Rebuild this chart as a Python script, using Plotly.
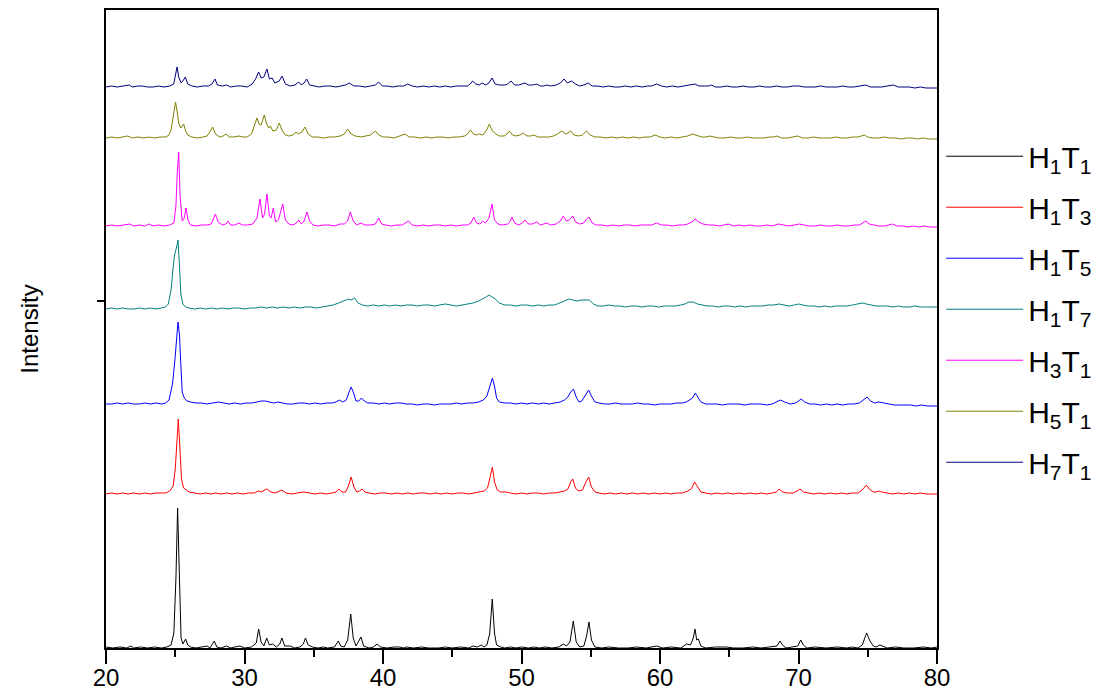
import numpy as np
import plotly.graph_objects as go

# ---- data (2-theta in degrees, intensity above each pattern's own baseline) ----
NAMES = ["H<sub>1</sub>T<sub>1</sub>", "H<sub>1</sub>T<sub>3</sub>", "H<sub>1</sub>T<sub>5</sub>",
         "H<sub>1</sub>T<sub>7</sub>", "H<sub>3</sub>T<sub>1</sub>", "H<sub>5</sub>T<sub>1</sub>",
         "H<sub>7</sub>T<sub>1</sub>"]
OFFSETS = [0, 154, 244, 339, 422, 510, 561]
COLORS = ["#000000", "#FF0000", "#0000FF", "#008080", "#FF00FF", "#808000", "#000080"]

H1T1 = [(20.0,1),(20.5,0),(21.0,1),(21.5,0),(21.8,2),(22.0,0),(22.5,1),(23.0,0),(23.5,1),(24.0,0),(24.4,1),(24.7,3),(24.9,15),(25.05,70),(25.17,140),(25.3,60),(25.42,10),(25.55,4),(25.75,9),(25.9,3),(26.1,1),(26.5,0),(27.0,1),(27.3,2),(27.5,0),(27.82,7),(28.0,1),(28.3,0),(28.7,2),(29.0,0),(29.3,1),(29.68,2),(30.0,0),(30.5,1),(30.85,5),(31.02,19),(31.2,6),(31.4,2),(31.6,10),(31.8,3),(32.03,4),(32.3,1),(32.55,4),(32.7,10),(32.9,2),(33.3,2),(33.6,0),(34.0,1),(34.25,4),(34.4,10),(34.6,3),(34.9,1),(35.3,0),(35.7,1),(36.0,0),(36.5,1),(36.77,7),(36.95,2),(37.2,1),(37.45,8),(37.67,34),(37.85,10),(38.05,2),(38.41,11),(38.6,2),(39.0,0),(39.3,1),(39.59,4),(39.8,1),(40.3,0),(40.8,1),(41.2,1),(41.5,0),(41.7,1),(42.2,0),(42.8,1),(43.3,0),(44.0,0),(44.5,1),(45.0,0),(45.6,1),(46.2,0),(46.5,2),(46.8,1),(47.1,3),(47.3,1),(47.5,3),(47.7,14),(47.89,49),(48.05,15),(48.2,3),(48.5,1),(48.8,0),(49.2,1),(49.6,0),(50.0,1),(50.5,0),(50.9,1),(51.3,0),(51.7,1),(52.2,0),(52.7,1),(53.02,4),(53.25,2),(53.5,6),(53.74,27),(53.95,6),(54.2,1),(54.5,2),(54.7,12),(54.87,26),(55.05,8),(55.3,1),(55.8,0),(56.3,1),(57.0,0),(57.7,0),(58.3,1),(59.0,0),(59.76,2),(60.2,0),(60.8,1),(61.5,0),(61.93,4),(62.2,3),(62.4,10),(62.53,19),(62.65,8),(62.77,9),(62.95,2),(63.3,0),(64.0,1),(64.8,1),(65.3,0),(66.0,0),(66.7,1),(67.3,0),(68.0,1),(68.45,2),(68.66,7),(68.85,3),(69.1,0),(69.6,1),(69.95,2),(70.16,8),(70.35,3),(70.6,0),(71.2,1),(72.0,0),(72.8,1),(73.5,0),(73.84,1),(74.3,0),(74.6,3),(74.92,15),(75.16,7),(75.4,2),(75.6,1),(75.88,3),(76.1,2),(76.4,0),(77.0,1),(77.6,0),(78.3,0),(79.0,1),(79.6,0),(80.0,1)]

H1T3 = [(20.0,0),(20.4,1),(20.8,0),(21.2,1),(21.6,0),(22.0,1),(22.4,0),(22.8,1),(23.2,0),(23.6,1),(24.0,1),(24.3,1),(24.6,3),(24.85,8),(25.0,25),(25.12,60),(25.22,75),(25.32,50),(25.45,15),(25.6,6),(25.8,4),(26.0,2),(26.4,1),(26.8,0),(27.2,1),(27.6,0),(27.9,1),(28.3,0),(28.7,1),(29.1,0),(29.5,1),(29.9,0),(30.3,1),(30.7,1),(31.0,3),(31.2,2),(31.6,5),(31.9,2),(32.2,1),(32.5,3),(32.7,4),(33.0,1),(33.4,0),(33.8,1),(34.3,2),(34.7,1),(35.1,0),(35.5,1),(35.9,0),(36.3,1),(36.6,2),(36.8,5),(37.05,2),(37.3,2),(37.5,8),(37.7,17),(37.9,7),(38.1,2),(38.3,3),(38.5,5),(38.7,2),(39.0,1),(39.4,0),(39.8,1),(40.2,1),(40.6,0),(41.0,1),(41.4,0),(41.8,1),(42.2,0),(42.6,1),(43.0,1),(43.4,0),(43.8,1),(44.2,0),(44.6,1),(45.0,0),(45.4,1),(45.8,1),(46.2,0),(46.6,1),(47.0,2),(47.3,3),(47.55,6),(47.75,18),(47.9,27),(48.05,12),(48.25,4),(48.5,2),(48.9,2),(49.2,1),(49.6,0),(50.0,1),(50.4,0),(50.8,1),(51.2,1),(51.6,0),(52.0,1),(52.4,1),(52.8,2),(53.1,3),(53.35,5),(53.55,12),(53.7,15),(53.9,6),(54.1,3),(54.4,4),(54.65,12),(54.85,17),(55.05,7),(55.3,2),(55.6,1),(56.0,0),(56.4,1),(56.8,0),(57.2,1),(57.6,0),(58.0,1),(58.4,0),(58.8,1),(59.2,0),(59.6,1),(60.0,0),(60.4,1),(60.8,0),(61.2,1),(61.6,1),(62.0,3),(62.25,5),(62.5,12),(62.7,7),(62.95,2),(63.3,1),(63.7,0),(64.1,1),(64.5,0),(64.9,1),(65.3,0),(65.7,1),(66.1,0),(66.5,1),(66.9,0),(67.3,1),(67.7,0),(68.1,1),(68.4,2),(68.6,5),(68.85,2),(69.2,1),(69.6,1),(69.9,3),(70.1,5),(70.35,2),(70.7,1),(71.1,0),(71.5,1),(71.9,0),(72.3,1),(72.7,0),(73.1,1),(73.5,0),(73.9,1),(74.3,1),(74.6,4),(74.9,9),(75.1,5),(75.4,2),(75.6,2),(75.8,3),(76.0,2),(76.4,1),(76.8,0),(77.2,1),(77.6,0),(78.0,1),(78.4,0),(78.8,1),(79.2,0),(79.6,0),(80.0,0)]

H1T5 = [(20.0,0),(20.4,0),(20.8,1),(21.2,0),(21.6,1),(22.0,0),(22.4,0),(22.8,1),(23.2,0),(23.6,1),(24.0,0),(24.3,1),(24.55,4),(24.8,20),(24.95,40),(25.1,72),(25.2,82),(25.3,70),(25.4,35),(25.5,12),(25.65,6),(25.85,3),(26.1,2),(26.5,1),(26.9,1),(27.3,0),(27.7,1),(28.1,2),(28.5,1),(28.9,0),(29.3,1),(29.7,0),(30.1,1),(30.5,1),(30.9,2),(31.2,3),(31.5,3),(31.8,2),(32.1,1),(32.4,2),(32.7,1),(33.1,0),(33.5,0),(33.9,1),(34.3,1),(34.7,0),(35.1,1),(35.5,0),(35.9,1),(36.3,1),(36.6,2),(36.85,4),(37.1,2),(37.35,4),(37.55,12),(37.7,17),(37.85,12),(38.05,3),(38.25,3),(38.45,6),(38.65,3),(38.9,1),(39.3,1),(39.7,0),(40.1,1),(40.5,0),(40.9,1),(41.3,1),(41.7,0),(42.1,0),(42.5,-1),(42.9,0),(43.3,0),(43.7,-1),(44.1,0),(44.5,0),(44.9,0),(45.3,1),(45.7,0),(46.1,1),(46.5,1),(46.9,2),(47.25,4),(47.5,8),(47.7,17),(47.9,26),(48.05,18),(48.2,6),(48.4,2),(48.8,1),(49.2,1),(49.6,0),(50.0,1),(50.4,0),(50.8,1),(51.2,0),(51.6,1),(52.0,0),(52.4,1),(52.8,2),(53.1,4),(53.35,7),(53.55,12),(53.75,15),(53.95,7),(54.15,2),(54.35,3),(54.6,9),(54.85,14),(55.05,8),(55.3,2),(55.6,1),(56.0,0),(56.4,0),(56.8,1),(57.2,0),(57.6,0),(58.0,0),(58.4,1),(58.8,0),(59.2,0),(59.6,-1),(60.0,0),(60.4,0),(60.8,0),(61.2,1),(61.6,1),(61.9,2),(62.15,4),(62.35,6),(62.55,11),(62.75,6),(62.95,2),(63.3,0),(63.7,0),(64.1,0),(64.5,-1),(64.9,0),(65.3,0),(65.7,0),(66.1,-1),(66.5,0),(66.9,0),(67.3,0),(67.7,-1),(68.1,0),(68.4,2),(68.7,4),(69.0,2),(69.4,0),(69.8,1),(70.2,5),(70.45,2),(70.8,0),(71.2,0),(71.6,-1),(72.0,0),(72.4,-1),(72.8,0),(73.2,-1),(73.6,0),(74.0,0),(74.4,1),(74.7,4),(74.95,7),(75.2,3),(75.5,1),(75.8,2),(76.1,1),(76.5,0),(76.9,-1),(77.3,-1),(77.7,-1),(78.1,-1),(78.5,-2),(78.9,-1),(79.3,-2),(79.7,-2),(80.0,-2)]

H1T7 = [(20.0,0),(20.4,1),(20.8,0),(21.2,1),(21.6,0),(22.0,0),(22.4,1),(22.8,0),(23.2,1),(23.6,0),(24.0,1),(24.3,2),(24.5,5),(24.7,19),(24.85,42),(24.95,54),(25.1,62),(25.2,69),(25.3,45),(25.4,15),(25.55,5),(25.75,2),(26.0,1),(26.4,0),(26.8,1),(27.2,0),(27.6,1),(28.0,0),(28.4,1),(28.8,0),(29.2,1),(29.6,1),(30.0,0),(30.4,1),(30.8,1),(31.2,2),(31.6,1),(32.0,2),(32.4,1),(32.8,2),(33.2,1),(33.6,2),(34.0,1),(34.4,2),(34.8,2),(35.2,1),(35.6,2),(36.0,3),(36.4,4),(36.8,6),(37.2,8),(37.5,10),(37.7,9),(37.95,11),(38.2,6),(38.5,4),(38.9,3),(39.3,4),(39.7,3),(40.1,4),(40.5,3),(40.9,4),(41.3,3),(41.7,4),(42.1,4),(42.5,3),(42.9,4),(43.3,4),(43.7,3),(44.1,4),(44.5,5),(44.9,4),(45.3,3),(45.7,4),(46.1,5),(46.5,6),(46.9,8),(47.2,10),(47.45,12),(47.65,14),(47.85,12),(48.1,10),(48.4,6),(48.8,4),(49.2,4),(49.6,3),(50.0,4),(50.4,4),(50.8,3),(51.2,4),(51.6,3),(52.0,4),(52.4,4),(52.8,6),(53.1,8),(53.4,10),(53.7,9),(54.0,8),(54.3,9),(54.6,9),(54.9,9),(55.2,5),(55.5,3),(55.9,3),(56.3,4),(56.7,3),(57.1,3),(57.5,2),(57.9,3),(58.3,3),(58.7,2),(59.1,3),(59.5,3),(59.9,2),(60.3,3),(60.7,3),(61.1,3),(61.5,4),(61.8,5),(62.1,7),(62.4,7),(62.7,5),(63.0,4),(63.4,3),(63.8,3),(64.2,2),(64.6,3),(65.0,3),(65.4,2),(65.8,3),(66.2,2),(66.6,3),(67.0,3),(67.4,3),(67.8,4),(68.2,4),(68.6,5),(68.9,4),(69.3,3),(69.7,4),(70.0,5),(70.3,4),(70.7,3),(71.1,3),(71.5,2),(71.9,3),(72.3,2),(72.7,3),(73.1,3),(73.5,3),(73.9,4),(74.3,5),(74.6,6),(74.9,5),(75.2,4),(75.6,3),(76.0,3),(76.4,3),(76.8,2),(77.2,3),(77.6,2),(78.0,2),(78.4,3),(78.8,2),(79.2,2),(79.6,2),(80.0,2)]

H3T1 = [(20.0,0),(20.4,1),(20.8,0),(21.2,1),(21.5,1),(21.7,2),(22.0,0),(22.4,1),(22.8,0),(23.1,2),(23.4,0),(23.8,1),(24.2,0),(24.6,1),(24.9,3),(25.05,20),(25.15,55),(25.25,74),(25.35,30),(25.5,5),(25.65,8),(25.78,18),(25.92,6),(26.1,1),(26.5,0),(26.9,1),(27.3,1),(27.6,2),(27.9,12),(28.1,4),(28.4,1),(28.65,2),(28.8,5),(29.0,1),(29.3,1),(29.6,3),(29.85,1),(30.2,1),(30.6,2),(30.9,8),(31.12,27),(31.3,8),(31.45,12),(31.62,32),(31.8,10),(31.92,8),(32.08,18),(32.25,4),(32.45,6),(32.6,14),(32.76,22),(32.95,6),(33.2,2),(33.5,1),(33.75,3),(33.91,6),(34.1,2),(34.3,5),(34.51,14),(34.7,5),(34.95,1),(35.3,0),(35.7,1),(36.1,1),(36.5,0),(36.9,2),(37.2,2),(37.45,5),(37.64,14),(37.85,5),(38.1,1),(38.41,3),(38.7,1),(39.1,1),(39.45,2),(39.69,8),(39.9,2),(40.2,1),(40.6,0),(41.0,1),(41.4,1),(41.83,5),(42.1,1),(42.5,0),(42.9,1),(43.3,0),(43.7,1),(44.1,1),(44.5,0),(44.9,1),(45.3,0),(45.7,1),(46.1,1),(46.35,3),(46.55,9),(46.75,3),(47.0,2),(47.2,5),(47.4,3),(47.65,8),(47.87,22),(48.05,6),(48.3,2),(48.6,1),(49.0,2),(49.15,4),(49.31,9),(49.5,3),(49.8,1),(50.05,3),(50.25,6),(50.5,2),(50.8,2),(51.1,4),(51.35,1),(51.6,2),(51.82,3),(52.1,1),(52.5,2),(52.8,5),(53.02,10),(53.25,5),(53.45,6),(53.7,10),(53.9,4),(54.2,2),(54.5,3),(54.7,7),(54.87,9),(55.1,3),(55.4,1),(55.8,1),(56.2,0),(56.6,1),(57.0,0),(57.4,1),(57.8,1),(58.2,0),(58.6,1),(59.0,1),(59.4,1),(59.76,3),(60.1,1),(60.5,1),(60.9,0),(61.3,1),(61.7,1),(62.0,2),(62.3,4),(62.53,7),(62.8,4),(63.1,2),(63.5,1),(63.9,1),(64.3,0),(64.6,1),(64.93,2),(65.3,0),(65.7,1),(66.1,0),(66.5,1),(66.9,0),(67.3,0),(67.7,1),(68.1,0),(68.54,2),(68.9,1),(69.3,0),(69.7,1),(70.06,2),(70.4,1),(70.8,0),(71.2,0),(71.6,1),(72.0,0),(72.4,0),(72.8,1),(73.2,0),(73.6,0),(74.0,1),(74.4,1),(74.65,3),(74.87,5),(75.1,2),(75.4,1),(75.8,0),(76.2,0),(76.5,1),(76.8,2),(77.1,0),(77.5,0),(77.9,-1),(78.3,0),(78.7,-1),(79.1,0),(79.5,-1),(80.0,-1)]

H5T1 = [(20.0,0),(20.4,1),(20.8,0),(21.2,1),(21.56,2),(21.9,0),(22.3,1),(22.7,0),(23.1,1),(23.5,0),(23.9,1),(24.3,1),(24.55,3),(24.7,8),(24.85,22),(24.95,33),(25.02,36),(25.12,28),(25.25,15),(25.4,10),(25.52,13),(25.61,14),(25.75,7),(25.9,3),(26.2,1),(26.6,0),(27.0,1),(27.3,2),(27.5,6),(27.7,11),(27.9,4),(28.2,1),(28.45,2),(28.66,4),(28.9,1),(29.2,1),(29.6,2),(29.9,1),(30.2,1),(30.5,4),(30.75,14),(30.9,20),(31.05,14),(31.2,13),(31.43,23),(31.6,14),(31.75,10),(31.87,12),(32.05,7),(32.3,8),(32.51,15),(32.7,8),(32.95,3),(33.2,2),(33.5,3),(33.72,6),(33.9,4),(34.15,6),(34.37,11),(34.6,4),(34.9,1),(35.3,1),(35.7,0),(36.1,1),(36.5,1),(36.9,2),(37.2,4),(37.45,9),(37.7,4),(38.0,2),(38.4,1),(38.8,2),(39.1,3),(39.45,7),(39.7,3),(40.0,1),(40.4,1),(40.8,0),(41.2,2),(41.59,4),(41.9,1),(42.3,1),(42.7,0),(43.1,1),(43.5,0),(43.9,1),(44.3,1),(44.7,0),(45.1,1),(45.5,1),(45.9,2),(46.1,4),(46.3,8),(46.55,4),(46.75,3),(46.95,4),(47.2,3),(47.45,7),(47.68,14),(47.9,7),(48.15,4),(48.4,2),(48.75,2),(48.95,4),(49.12,7),(49.35,3),(49.6,2),(49.9,3),(50.13,5),(50.4,2),(50.65,2),(50.9,3),(51.2,1),(51.6,1),(52.0,1),(52.3,2),(52.6,4),(52.9,7),(53.2,4),(53.35,5),(53.55,7),(53.8,3),(54.1,2),(54.4,3),(54.7,7),(54.95,3),(55.3,1),(55.7,1),(56.1,0),(56.5,1),(56.9,0),(57.3,1),(57.7,0),(58.1,1),(58.5,0),(58.9,1),(59.3,1),(59.64,3),(60.0,1),(60.4,0),(60.8,1),(61.2,0),(61.6,1),(62.0,2),(62.36,4),(62.7,2),(63.0,1),(63.3,1),(63.6,2),(63.9,1),(64.3,0),(64.7,0),(65.1,1),(65.5,0),(65.9,0),(66.3,1),(66.7,0),(67.1,0),(67.5,0),(67.9,1),(68.2,1),(68.43,2),(68.8,0),(69.2,0),(69.6,1),(69.94,2),(70.3,0),(70.7,0),(71.1,1),(71.5,0),(71.9,0),(72.3,0),(72.7,1),(73.1,0),(73.5,0),(73.9,1),(74.3,1),(74.55,2),(74.75,3),(75.0,1),(75.4,0),(75.8,0),(76.2,1),(76.6,0),(77.0,0),(77.4,-1),(77.8,0),(78.2,0),(78.6,-1),(79.0,0),(79.4,-1),(79.8,-1),(80.0,-1)]

H7T1 = [(20.0,0),(20.4,1),(20.8,0),(21.2,1),(21.5,1),(21.68,2),(21.9,0),(22.3,1),(22.65,1),(23.0,0),(23.4,0),(23.8,1),(24.2,0),(24.6,1),(24.89,3),(25.0,12),(25.13,20),(25.25,10),(25.42,4),(25.55,6),(25.73,10),(25.9,3),(26.2,1),(26.6,0),(27.0,1),(27.4,1),(27.65,3),(27.87,8),(28.05,2),(28.4,1),(28.71,2),(29.0,0),(29.4,1),(29.8,1),(30.2,0),(30.55,3),(30.8,8),(31.02,15),(31.2,9),(31.4,10),(31.62,18),(31.8,8),(31.99,9),(32.2,4),(32.5,6),(32.71,11),(32.95,3),(33.3,1),(33.65,2),(33.91,5),(34.1,2),(34.3,4),(34.49,8),(34.7,2),(35.0,1),(35.4,0),(35.8,1),(36.2,1),(36.6,0),(37.0,1),(37.3,2),(37.57,4),(37.9,1),(38.3,1),(38.7,0),(39.1,1),(39.45,2),(39.69,5),(39.95,1),(40.3,1),(40.7,0),(41.1,1),(41.5,1),(41.78,3),(42.1,1),(42.5,0),(42.9,1),(43.3,0),(43.7,1),(44.1,0),(44.5,1),(44.9,0),(45.3,1),(45.7,1),(46.1,1),(46.3,3),(46.47,6),(46.7,3),(46.95,2),(47.15,4),(47.4,2),(47.65,4),(47.87,9),(48.1,3),(48.4,2),(48.8,2),(49.0,3),(49.24,6),(49.5,2),(49.8,2),(50.0,3),(50.25,4),(50.5,2),(50.8,2),(51.1,3),(51.35,1),(51.6,1),(51.82,2),(52.1,1),(52.5,2),(52.8,4),(53.07,8),(53.3,4),(53.45,5),(53.62,6),(53.9,3),(54.2,1),(54.5,2),(54.82,4),(55.1,1),(55.5,1),(55.9,0),(56.3,1),(56.7,0),(57.1,0),(57.5,1),(57.9,0),(58.3,1),(58.7,0),(59.1,1),(59.4,1),(59.76,3),(60.1,1),(60.5,0),(60.9,1),(61.3,0),(61.7,1),(62.0,1),(62.3,2),(62.53,3),(62.8,1),(63.2,1),(63.5,1),(63.73,2),(64.0,0),(64.4,0),(64.8,1),(65.2,0),(65.6,0),(66.0,1),(66.4,0),(66.8,0),(67.2,1),(67.6,0),(68.0,0),(68.43,1),(68.8,0),(69.2,0),(69.6,1),(70.06,1),(70.4,0),(70.8,0),(71.2,0),(71.6,1),(72.0,0),(72.4,0),(72.8,0),(73.2,1),(73.6,0),(74.0,0),(74.4,1),(74.85,2),(75.2,0),(75.6,0),(76.0,0),(76.4,1),(76.85,2),(77.2,0),(77.6,0),(78.0,0),(78.4,-1),(78.8,0),(79.2,-1),(79.6,-1),(80.0,-1)]

SERIES = [H1T1, H1T3, H1T5, H1T7, H3T1, H5T1, H7T1]
X_TICKS = [20, 30, 40, 50, 60, 70, 80]
X_MINOR = [25, 35, 45, 55, 65, 75]
Y_TICK = [347]

FONT = "Arial, 'Liberation Sans', sans-serif"

fig = go.Figure()
for name, pts, off, col in zip(NAMES, SERIES, OFFSETS, COLORS):
    arr = np.array(pts, dtype=float)
    fig.add_trace(go.Scatter(
        x=arr[:, 0], y=arr[:, 1] + off, mode="lines", name=name,
        legendgroup=name, line=dict(color=col, width=1)))

axis_common = dict(showgrid=False, zeroline=False, showline=True, linecolor="black",
                   linewidth=2, mirror=True, ticks="outside", tickcolor="black", tickwidth=2)

fig.update_layout(
    width=1097, height=690,
    margin=dict(l=106, r=160, t=10, b=42, autoexpand=False),
    paper_bgcolor="white", plot_bgcolor="white",
    font=dict(family=FONT, color="black"),
    showlegend=True,
    legend=dict(x=1.005, y=0.531, xanchor="left", yanchor="middle",
                font=dict(family=FONT, size=30, color="black"),
                itemwidth=77, tracegroupgap=9, bgcolor="rgba(0,0,0,0)",
                borderwidth=0),
    xaxis=dict(range=[20, 80], tickvals=X_TICKS, ticklen=14,
               tickfont=dict(family=FONT, size=24, color="black"),
               ticklabelstandoff=-7,
               minor=dict(tickvals=X_MINOR, ticks="outside", ticklen=7,
                          tickwidth=2, tickcolor="black"),
               **axis_common),
    yaxis=dict(range=[0, 638], tickvals=Y_TICK, showticklabels=False, ticklen=7,
               title=dict(text="Intensity", font=dict(family=FONT, size=24, color="black"),
                          standoff=52),
               **axis_common),
)

fig.write_html("out.html")
